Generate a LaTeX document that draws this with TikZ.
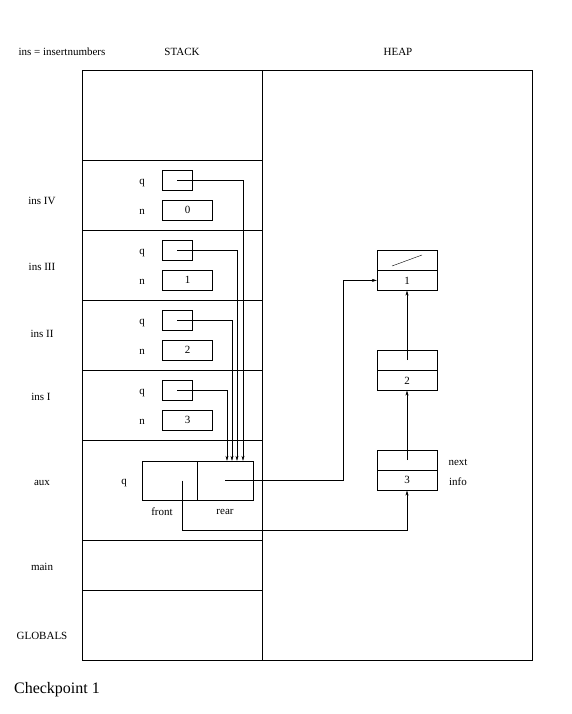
\documentclass[tikz,border=0pt]{standalone}
\usepackage{fontspec}
\setmainfont{Liberation Serif}
\usetikzlibrary{arrows.meta,positioning,calc}

\begin{document}
\begin{tikzpicture}[
    x=1pt, y=-1pt,
    font=\fontsize{11}{13}\selectfont,
    cell/.style={draw, minimum height=20pt, inner sep=0pt},
    qbox/.style={cell, minimum width=30pt},
    nbox/.style={cell, minimum width=50pt},
    lbox/.style={cell, minimum width=60pt},
    ptr/.style={-{Stealth[length=5pt,width=3pt]}}
]
\useasboundingbox (0,0) rectangle (571,714);

% Headings
\node (title) at (62,52) {ins = insertnumbers};
\node (stack) at (182,52) {STACK};
\node (heap) at (398,52) {HEAP};

% Stack and heap
\draw (82,70) rectangle (262,660);
\draw (262,70) rectangle (532,660);
\foreach \y in {160,230,300,370,440,540,590}
  \draw (82,\y) -- (262,\y);

% Frame names
\node (fIV) at (42,201) {ins IV};
\node (fIII) at (42,267) {ins III};
\node (fII) at (42,334) {ins II};
\node (fI) at (41,397) {ins I};
\node (faux) at (42,483) {aux};
\node (fmain) at (42,567) {main};
\node (fglob) at (42,636) {GLOBALS};

% Frames of ins
\foreach \k/\y/\v in {4/180/0, 3/250/1, 2/320/2, 1/390/3} {
  \node (qlab\k) at (142,\y+3) {q};
  \node[qbox] (q\k) at (177,\y) {};
  \node (nlab\k) at (142,\y+32) {n};
  \node[nbox] (n\k) at (187.5,\y+30) {\v};
}

% Frame of aux
\node (qaux) at (124,483) {q};
\node[cell, minimum width=55pt, minimum height=39pt] (auxF) at (169.5,480.5) {};
\node[cell, minimum width=56pt, minimum height=39pt] (auxR) at (225,480.5) {};
\node (lfront) at (162,512) {front};
\node (lrear) at (225,512) {rear};

% Heap list
\node[lbox] (l1next) at (407,260) {};
\node[lbox, below=0pt of l1next] (l1info) {1};
\node[lbox] (l2next) at (407,360) {};
\node[lbox, below=0pt of l2next] (l2info) {2};
\node[lbox] (l3next) at (407,460) {};
\node[lbox, below=0pt of l3next] (l3info) {3};
\node (lnext) at (458,462) {next};
\node (linfo) at (458,482) {info};
\draw ([shift={(-15,6)}]l1next.center) -- ([shift={(15,-5)}]l1next.center);

% Pointers
\draw[ptr] (q4.center) -| ([xshift=18pt]auxR.north);
\draw[ptr] (q3.center) -| ([xshift=12pt]auxR.north);
\draw[ptr] (q2.center) -| ([xshift=7pt]auxR.north);
\draw[ptr] (q1.center) -| ([xshift=2pt]auxR.north);

\coordinate (rbend) at (343,480.5);
\draw[ptr] (auxR.center) -- (rbend) |- (l1info.west);
\draw[ptr] ([xshift=12.5pt]auxF.center) -- ++(0,49.5) -| (l3info.south);
\draw[ptr] (l3next.center) -- (l2info.south);
\draw[ptr] (l2next.center) -- (l1info.south);

\node[font=\fontsize{16}{19}\selectfont] (chk) at (57,690) {Checkpoint 1};
\end{tikzpicture}
\end{document}
